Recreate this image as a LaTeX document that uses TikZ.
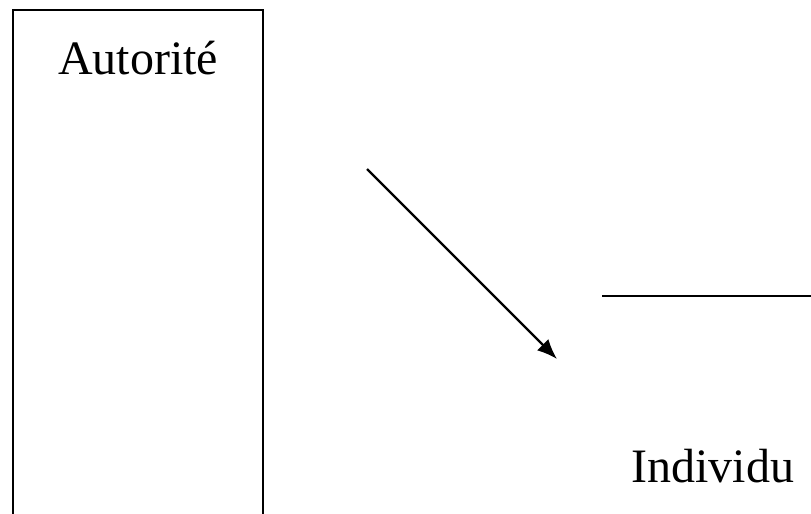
\documentclass[tikz,border=0pt]{standalone}
\usepackage{fontspec}
\setmainfont{Liberation Serif}
\usetikzlibrary{arrows.meta}
\begin{document}
\begin{tikzpicture}[x=0.5pt,y=-0.5pt,line cap=butt,line join=miter]
  \useasboundingbox (0,0) rectangle (811,514);
  \clip (0,0) rectangle (811,514);
  \coordinate (boxNW) at (13,10);
  \coordinate (boxSE) at (263,530);
  \coordinate (arrS) at (367,169);
  \coordinate (arrE) at (557,359);
  \coordinate (barW) at (602,296);
  \coordinate (barE) at (815,296);
  \draw[line width=1.2pt] (boxNW) rectangle (boxSE);
  \node[anchor=base,font=\fontsize{24}{28}\selectfont,inner sep=0pt] (autorite) at (138,75) {Autorité};
  \draw[line width=1.2pt,-{Latex[length=10pt,width=8pt]}] (arrS) -- (arrE);
  \draw[line width=1.2pt] (barW) -- (barE);
  \node[anchor=base,font=\fontsize{24}{28}\selectfont,inner sep=0pt] (individu) at (713,482) {Individu};
\end{tikzpicture}
\end{document}
